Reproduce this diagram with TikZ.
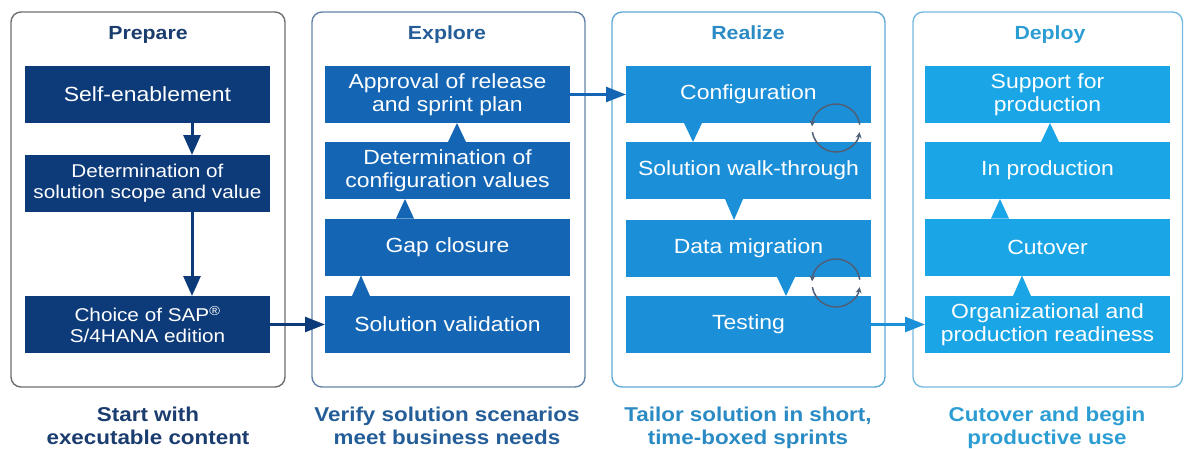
\documentclass[tikz,border=0pt]{standalone}
\usepackage{fontspec}
\setmainfont[FakeStretch=1.12]{Liberation Sans}
\usetikzlibrary{arrows.meta}

% phase colours: box fill, heading text, frame outline
\definecolor{prepC}{HTML}{0D3B79}
\definecolor{explC}{HTML}{1466B4}
\definecolor{realC}{HTML}{1C8FD9}
\definecolor{deplC}{HTML}{1AA6E6}
\definecolor{prepT}{HTML}{1B3C6E}
\definecolor{explT}{HTML}{245D98}
\definecolor{realT}{HTML}{2A8AC4}
\definecolor{deplT}{HTML}{2C9DD3}
\definecolor{prepF}{HTML}{6E6E6E}
\definecolor{explF}{HTML}{6482A8}
\definecolor{realF}{HTML}{5FA9D6}
\definecolor{deplF}{HTML}{74B9DE}
\definecolor{cycC}{HTML}{4F5F78}

% small triangular pointer from one box edge to the next box
% #1 base point (box edge), #2 apex point (other box edge), #3 x position, #4 colour
\newcommand\ptr[4]{%
  \fill[#4] (#3-9,0 |- #1) -- (#3+9,0 |- #1) -- (#3,0 |- #2) -- cycle;}

\begin{document}
\begin{tikzpicture}[x=1pt,y=-1pt,
  stepbox/.style={fill=#1, text=white, minimum width=245pt, minimum height=57pt,
    inner sep=0pt, outer sep=0pt, align=center,
    font=\fontsize{20.5}{23}\selectfont},
  smalltext/.style={font=\fontsize{18.5}{21}\selectfont},
  phaseframe/.style={draw=#1, line width=1.4pt, rounded corners=10pt},
  phasetitle/.style={text=#1, anchor=base, inner sep=0pt,
    font=\bfseries\fontsize{19}{22}\selectfont},
  phasecap/.style={text=#1, anchor=north, inner sep=0pt, align=center,
    font=\bfseries\fontsize{20}{22.5}\selectfont},
  flowarrow/.style={draw=#1, line width=2.5pt,
    -{Triangle[length=20pt,width=15pt]}},
  downarrow/.style={draw=#1, line width=3pt,
    -{Triangle[length=20pt,width=17pt]}},
  cycle arc/.style={draw=cycC, line width=1.5pt,
    -{Stealth[length=6pt,width=6pt]}}
]
\useasboundingbox (0,0) rectangle (1184,448);

% ---------- frames ----------
\draw[phaseframe=prepF] (11,12) rectangle (285,387);
\draw[phaseframe=explF] (312,12) rectangle (585,387);
\draw[phaseframe=realF] (612,12) rectangle (885,387);
\draw[phaseframe=deplF] (913,12) rectangle (1182.5,387);

% ---------- headings ----------
\node[phasetitle=prepT] (tprep) at (148,39.5) {Prepare};
\node[phasetitle=explT] (texpl) at (447,39.5) {Explore};
\node[phasetitle=realT] (treal) at (748,39.5) {Realize};
\node[phasetitle=deplT] (tdepl) at (1050,39.5) {Deploy};

% ---------- Prepare ----------
\node[stepbox=prepC] (se)  at (147.5,94.5)  {Self-enablement};
\node[stepbox=prepC, smalltext] (dsv) at (147.5,183.5) {Determination of\\solution scope and value};
\node[stepbox=prepC, smalltext] (sap) at (147.5,324.5) {Choice of SAP\textsuperscript{®}\\S/4HANA edition};

% ---------- Explore ----------
\node[stepbox=explC] (app) at (447.5,94.5)  {Approval of release\\and sprint plan};
\node[stepbox=explC] (dcv) at (447.5,170.5) {Determination of\\configuration values};
\node[stepbox=explC] (gap) at (447.5,247)   {Gap closure};
\node[stepbox=explC] (sv)  at (447.5,324.5) {Solution validation};

% ---------- Realize ----------
\node[stepbox=realC] (conf) at (748.5,94.5)  {Configuration};
\node[stepbox=realC] (swt)  at (748.5,170.5) {Solution walk-through};
\node[stepbox=realC] (dm)   at (748.5,248.5) {Data migration};
\node[stepbox=realC] (test) at (748.5,324.5) {Testing};

% ---------- Deploy ----------
\node[stepbox=deplC] (sup)    at (1047.5,94.5)  {Support for\\production};
\node[stepbox=deplC] (inprod) at (1047.5,170.5) {In production};
\node[stepbox=deplC] (cut)    at (1047.5,247)   {Cutover};
\node[stepbox=deplC] (ord)    at (1047.5,324.5) {Organizational and\\production readiness};

% ---------- arrows inside Prepare ----------
\draw[downarrow=prepC] (192,0 |- se.south)  -- (192,0 |- dsv.north);
\draw[downarrow=prepC] (192,0 |- dsv.south) -- (192,0 |- sap.north);

% ---------- pointers ----------
\ptr{sv.north}{gap.south}{361}{explC}
\ptr{gap.north}{dcv.south}{405}{explC}
\ptr{dcv.north}{app.south}{457}{explC}

\ptr{conf.south}{swt.north}{693}{realC}
\ptr{swt.south}{dm.north}{734}{realC}
\ptr{dm.south}{test.north}{786}{realC}

\ptr{ord.north}{cut.south}{1022}{deplC}
\ptr{cut.north}{inprod.south}{1000}{deplC}
\ptr{inprod.north}{sup.south}{1050}{deplC}

% ---------- hand-over arrows between phases ----------
\draw[flowarrow=prepC] (sap.east) -- (sv.west);
\draw[flowarrow=explC] (app.east) -- (conf.west);
\draw[flowarrow=realC] (test.east) -- (ord.west);

% ---------- iteration cycles ----------
\coordinate (cy1) at (836,128);
\coordinate (cy2) at (836,283);
\foreach \c in {cy1,cy2}{
  \draw[cycle arc] (\c) ++(-8:24) arc[start angle=-8, end angle=-176, radius=24];
  \draw[cycle arc] (\c) ++(-190:24) arc[start angle=-190, end angle=-350, radius=24];
}

% ---------- captions ----------
\node[phasecap=prepT] (cprep) at (148,407)  {Start with\\executable content};
\node[phasecap=explT] (cexpl) at (447,407)  {Verify solution scenarios\\meet business needs};
\node[phasecap=realT] (creal) at (748,407)  {Tailor solution in short,\\time-boxed sprints};
\node[phasecap=deplT] (cdepl) at (1047,407) {Cutover and begin\\productive use};
\end{tikzpicture}
\end{document}
